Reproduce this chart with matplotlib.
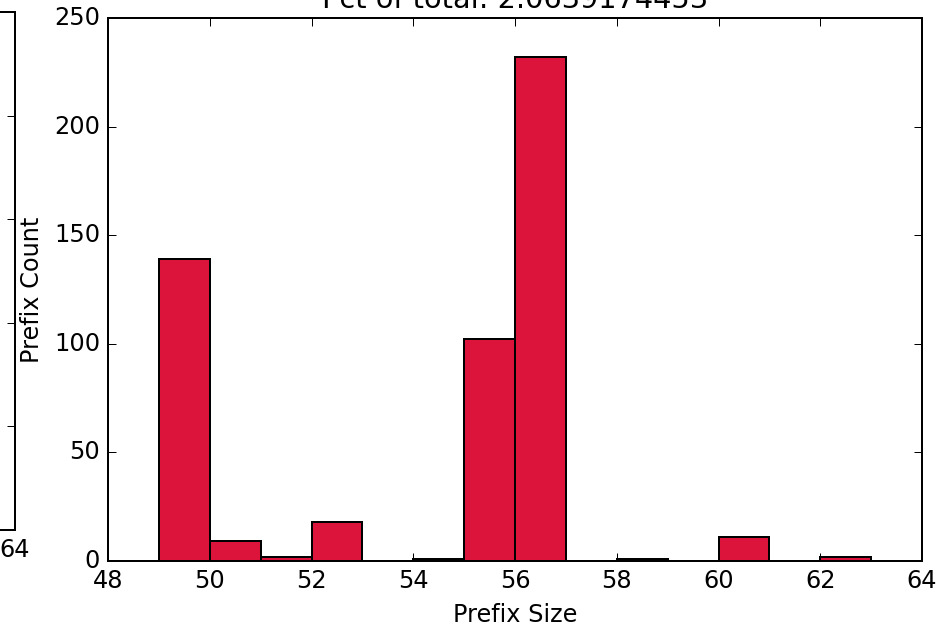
import matplotlib
matplotlib.use("Agg")
import matplotlib.pyplot as plt

plt.style.use("classic")

# data
bin_edges_left = [49, 50, 51, 52, 53, 54, 55, 56, 57, 58, 59, 60, 61, 62]
counts = [139, 9, 2, 18, 0, 1, 102, 232, 0, 1, 0, 11, 0, 2]
title_text = "Pct of total: 2.0639174453"
xlabel_text = "Prefix Size"
ylabel_text = "Prefix Count"
x_ticks = [48, 50, 52, 54, 56, 58, 60, 62, 64]
y_ticks = [0, 50, 100, 150, 200, 250]

DPI = 144
fig = plt.figure(figsize=(951 / DPI, 631 / DPI), dpi=DPI, facecolor="white")

# partially visible neighbouring subplot on the left (only its right edge shows)
axl = fig.add_axes([-0.45, 0.160, 0.4658, 0.821])
axl.set_xlim(48, 64)
axl.set_ylim(0, 250)
axl.set_xticks(x_ticks)
axl.set_xticklabels([""] * (len(x_ticks) - 1) + [str(x_ticks[-1])])
axl.set_yticks(y_ticks)
axl.set_yticklabels([""] * len(y_ticks))

ax = fig.add_axes([0.1136, 0.1109, 0.8559, 0.8606])
ax.bar(bin_edges_left, counts, width=1.0, align="edge",
       color="crimson", edgecolor="black", linewidth=1.0)
ax.set_xlim(48, 64)
ax.set_ylim(0, 250)
ax.set_xticks(x_ticks)
ax.set_yticks(y_ticks)
ax.set_xlabel(xlabel_text)
ax.set_ylabel(ylabel_text)
ax.set_title(title_text)

fig.savefig("out.png", dpi=DPI, facecolor="white")
